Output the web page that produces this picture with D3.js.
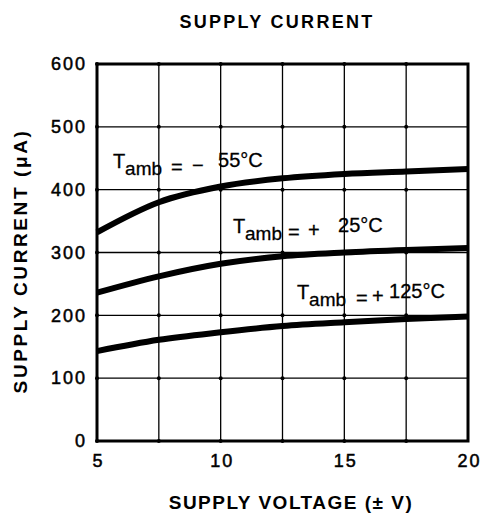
<!DOCTYPE html>
<html>
<head>
<meta charset="utf-8">
<script src="https://cdn.jsdelivr.net/npm/d3@7"></script>
<style>
  body { margin: 0; background: #fff; }
  text { font-family: "Liberation Sans", Arial, sans-serif; fill: #000; }
</style>
</head>
<body>
<script>
// supply voltage (+/- V) at which the curves are read
let voltage = [5, 7.5, 10, 12.5, 15, 17.5, 20];

// supply current (uA) per ambient temperature
let currentM55 = [332, 380, 405, 418, 425, 429, 433];
let currentP25 = [236, 262, 282, 294, 300, 304, 307];
let currentP125 = [143, 161, 173, 183, 189, 194, 198];

let xTicks = [5, 10, 15, 20];
let xGrid = [7.5, 10, 12.5, 15, 17.5];
let yTicks = [0, 100, 200, 300, 400, 500, 600];

// label anchor (data coords) and the pixel offsets of its pieces
let series = [
    { values: currentM55, lx: 5.65, ly: 434, sign: '−', temp: '55°C', offs: [58, 79, 105] },
    { values: currentP25, lx: 10.5, ly: 331, sign: '+', temp: '25°C', offs: [55, 75, 105] },
    { values: currentP125, lx: 13.09, ly: 226, sign: '+', temp: '125°C', offs: [59, 75, 92] }
];

let svg = d3.select('body')
    .append('svg')
        .attr('width', 481)
        .attr('height', 517);

let x = d3.scaleLinear().domain([5, 20]).range([97, 468]);
let y = d3.scaleLinear().domain([0, 600]).range([441, 64]);

// ============================================ GRID ===================================================================
svg.selectAll('.vgrid')
    .data(xGrid).enter()
    .append('line')
        .attr('x1', d => x(d)).attr('x2', d => x(d))
        .attr('y1', y(600)).attr('y2', y(0))
        .attr('stroke', '#000')
        .attr('stroke-width', 1.3);

svg.selectAll('.hgrid')
    .data(yTicks.slice(1, -1)).enter()
    .append('line')
        .attr('x1', x(5)).attr('x2', x(20))
        .attr('y1', d => y(d)).attr('y2', d => y(d))
        .attr('stroke', '#000')
        .attr('stroke-width', 1.3);

// little dots where grid lines cross
let crosses = [];
xGrid.forEach(a => yTicks.forEach(b => crosses.push([a, b])));
yTicks.forEach(b => crosses.push([5, b]));
svg.selectAll('.cross')
    .data(crosses).enter()
    .append('circle')
        .attr('cx', d => x(d[0]))
        .attr('cy', d => y(d[1]))
        .attr('r', 2)
        .attr('fill', '#000');

// frame
svg.append('rect')
    .attr('x', x(5)).attr('y', y(600))
    .attr('width', x(20) - x(5))
    .attr('height', y(0) - y(600))
    .attr('fill', 'none')
    .attr('stroke', '#000')
    .attr('stroke-width', 3);

// ============================================ AXES ===================================================================
let yAxis = svg.append('g')
    .attr('transform', 'translate(' + x(5) + ',0)')
    .call(d3.axisLeft(y).tickValues(yTicks).tickSize(0).tickPadding(10));
yAxis.select('.domain').remove();
yAxis.selectAll('text')
    .attr('font-size', 18)
    .attr('letter-spacing', 2)
    .attr('font-family', '"Liberation Sans", Arial, sans-serif')
    .attr('stroke', '#000').attr('stroke-width', 0.5);

let xAxis = svg.append('g')
    .attr('transform', 'translate(0,' + y(0) + ')')
    .call(d3.axisBottom(x).tickValues(xTicks).tickSize(0).tickPadding(13));
xAxis.select('.domain').remove();
xAxis.selectAll('text')
    .attr('font-size', 18)
    .attr('letter-spacing', 2)
    .attr('dx', 1)
    .attr('font-family', '"Liberation Sans", Arial, sans-serif')
    .attr('stroke', '#000').attr('stroke-width', 0.5);

// ============================================ CURVES =================================================================
let lineGenerator = d3.line()
    .x((d, i) => x(voltage[i]))
    .y(d => y(d))
    .curve(d3.curveMonotoneX);

svg.selectAll('.curve')
    .data(series).enter()
    .append('path')
        .attr('fill', 'none')
        .attr('stroke', '#000')
        .attr('stroke-width', 6)
        .attr('d', d => lineGenerator(d.values));

// ============================================ LABELS =================================================================
series.forEach(function (s) {
    let bx = x(s.lx), by = y(s.ly);
    let t = svg.append('text')
        .attr('font-size', 20)
        .attr('stroke', '#000').attr('stroke-width', 0.3);
    t.append('tspan').attr('x', bx).attr('y', by).text('T');
    t.append('tspan').attr('x', bx + 12).attr('y', by + 7).attr('font-size', 19).text('amb');
    t.append('tspan').attr('x', bx + s.offs[0]).attr('y', by + 6).text('=');
    t.append('tspan').attr('x', bx + s.offs[1]).attr('y', by + 4).text(s.sign);
    t.append('tspan').attr('x', bx + s.offs[2]).attr('y', by - 1).text(s.temp);
});

// ============================================ TITLES =================================================================
svg.append('text')
    .attr('x', 277).attr('y', 28)
    .attr('text-anchor', 'middle')
    .attr('font-size', 18)
    .attr('letter-spacing', 2.3)
    .attr('font-weight', 'bold')
    .text('SUPPLY CURRENT');

svg.append('text')
    .attr('x', 291).attr('y', 509)
    .attr('text-anchor', 'middle')
    .attr('font-size', 19)
    .attr('letter-spacing', 1.5)
    .attr('font-weight', 'bold')
    .text('SUPPLY VOLTAGE (± V)');

svg.append('text')
    .attr('transform', 'translate(27,261) rotate(-90)')
    .attr('text-anchor', 'middle')
    .attr('font-size', 19)
    .attr('letter-spacing', 2.6)
    .attr('font-weight', 'bold')
    .text('SUPPLY CURRENT (μA)');
</script>
</body>
</html>
